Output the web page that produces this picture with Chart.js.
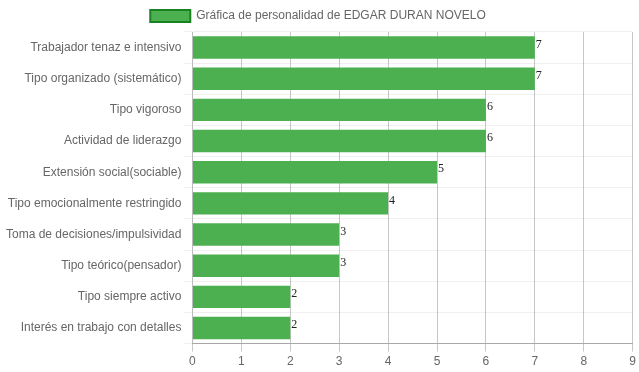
<!DOCTYPE html>
<html>
<head>
<meta charset="utf-8">
<script src="https://cdn.jsdelivr.net/npm/chart.js@4"></script>
<style>
  html, body { margin: 0; padding: 0; background: #fff; }
  #wrap { width: 639px; height: 372px; }
</style>
</head>
<body>
<div id="wrap"><canvas id="myChart"></canvas></div>
<script>
var rasgos = [
    'Trabajador tenaz e intensivo',
    'Tipo organizado (sistemático)',
    'Tipo vigoroso',
    'Actividad de liderazgo',
    'Extensión social(sociable)',
    'Tipo emocionalmente restringido',
    'Toma de decisiones/impulsividad',
    'Tipo teórico(pensador)',
    'Tipo siempre activo',
    'Interés en trabajo con detalles'
];
var puntajes = [7, 7, 6, 6, 5, 4, 3, 3, 2, 2];
var titulo = 'Gráfica de personalidad de EDGAR DURAN NOVELO';

Chart.defaults.font.family = 'Arial, "Liberation Sans", sans-serif';
Chart.defaults.font.size = 12;
Chart.defaults.color = '#666';

// escribe el valor al final de cada barra
var etiquetas = {
    id: 'etiquetas',
    afterDatasetsDraw: function(chart) {
        var ctx = chart.ctx;
        var meta = chart.getDatasetMeta(0);
        ctx.save();
        ctx.font = '12px "Liberation Serif", serif';
        ctx.fillStyle = '#222';
        ctx.textAlign = 'left';
        ctx.textBaseline = 'middle';
        meta.data.forEach(function(bar, i) {
            ctx.fillText(puntajes[i], bar.x + 1, bar.y - 3);
        });
        ctx.restore();
    }
};

var ctx = document.getElementById('myChart').getContext('2d');
var myChart = new Chart(ctx, {
    type: 'bar',
    data: {
        labels: rasgos,
        datasets: [{
            label: titulo,
            data: puntajes,
            backgroundColor: 'rgba(76, 175, 80, 1)',
            borderColor: 'rgba(27, 130, 35, 1)',
            borderWidth: 0
        }]
    },
    plugins: [etiquetas],
    options: {
        indexAxis: 'y',
        responsive: true,
        maintainAspectRatio: false,
        animation: false,
        layout: { padding: { left: 3, right: 6, top: 0, bottom: 0 } },
        plugins: {
            legend: {
                labels: {
                    boxWidth: 40,
                    boxHeight: 12,
                    generateLabels: function(chart) {
                        return [{
                            text: titulo,
                            fillStyle: 'rgba(76, 175, 80, 1)',
                            strokeStyle: 'rgba(27, 130, 35, 1)',
                            lineWidth: 2,
                            datasetIndex: 0,
                            fontColor: '#666'
                        }];
                    }
                }
            },
            tooltip: { enabled: false }
        },
        scales: {
            x: {
                min: 0,
                max: 9,
                ticks: { stepSize: 1 },
                grid: { color: 'rgba(0,0,0,0.22)' },
                border: { color: 'rgba(0,0,0,0.3)' }
            },
            y: {
                grid: { color: 'rgba(0,0,0,0.06)' },
                border: { color: 'rgba(0,0,0,0.06)' }
            }
        }
    }
});
</script>
</body>
</html>
